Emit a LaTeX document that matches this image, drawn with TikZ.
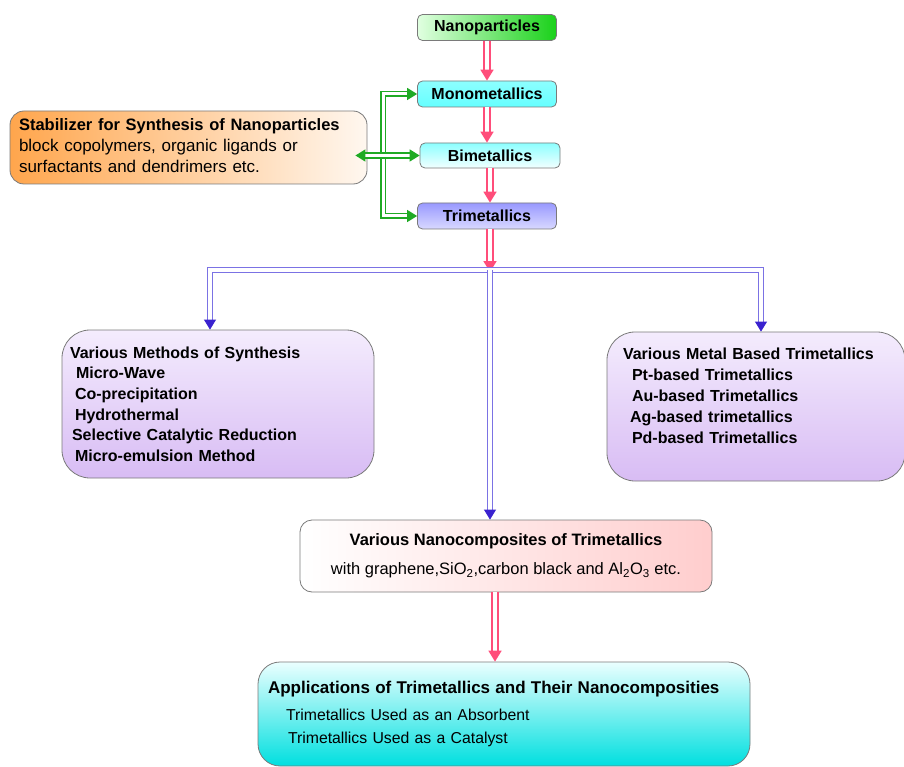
\documentclass[tikz,border=0pt]{standalone}
\usepackage{fontspec}
\setmainfont{Liberation Sans}
\usetikzlibrary{positioning, arrows.meta, calc}

\definecolor{pinkline}{HTML}{FF4D7A}
\definecolor{bluebus}{HTML}{7B72E4}
\definecolor{bluetip}{HTML}{3A22CF}
\definecolor{greenline}{HTML}{1FAA24}
\definecolor{boxline}{HTML}{7A7A7A}
\definecolor{lavtop}{HTML}{F4ECFD}
\definecolor{lavbottom}{HTML}{D8BCF4}

\begin{document}
\begin{tikzpicture}[
        x=1pt, y=-1pt,
        small/.style={draw=boxline, line width=0.8pt, rounded corners=5pt, inner sep=0pt, align=center, minimum width=139pt, minimum height=26pt, font=\fontsize{16}{19}\selectfont\bfseries},
        panel/.style={draw=boxline, line width=0.8pt, inner ysep=0pt, align=left},
        pinkarrow/.style={draw=pinkline, double=white, line width=1.8pt, double distance=3.5pt, -{Triangle[length=11pt, width=13pt]}},
        busline/.style={draw=bluebus, double=white, line width=0.9pt, double distance=4pt},
        bluearrow/.style={busline, -{Triangle[length=10pt, width=12pt, color=bluetip]}},
        greenarrow/.style={draw=greenline, double=white, line width=1.6pt, double distance=3pt, {Triangle[length=10pt, width=12pt]}-{Triangle[length=10pt, width=12pt]}}
    ]
    \useasboundingbox (0,0) rectangle (904,767);

    % Nodes
    \node[small, left color=green!12!white, right color=green!80!black!90] (nano) at (487,27.5) {Nanoparticles};
    \node[small, top color=cyan!45!white, bottom color=cyan!60!white] (mono) at (487,94) {Monometallics};
    \node[small, minimum width=140pt, minimum height=25pt, top color=cyan!45!white, bottom color=cyan!5!white] (bi) at (490,155.5) {Bimetallics};
    \node[small, top color=blue!40!white, bottom color=blue!15!white] (tri) at (487,216) {Trimetallics};

    \node[panel, rounded corners=14pt, left color=orange!70!white, right color=orange!6!white, text width=339pt, inner xsep=9pt, minimum height=73pt, font=\fontsize{17}{21}\selectfont] (stab) at (188.5,147.5)
        {\mbox{}\\[-13pt]
         \textbf{\fontsize{16.5}{21}\selectfont Stabilizer for Synthesis of Nanoparticles}\\
         block copolymers, organic ligands or\\
         surfactants and dendrimers etc.};

    \node[panel, rounded corners=28pt, top color=lavtop, bottom color=lavbottom, text width=296pt, inner xsep=8pt, minimum height=148pt, font=\fontsize{16}{20.6}\selectfont\bfseries] (meth) at (218,404)
        {Various Methods of Synthesis\\
         \hspace*{6pt}Micro-Wave\\
         \hspace*{5pt}Co-precipitation\\
         \hspace*{5pt}Hydrothermal\\
         \hspace*{2pt}Selective Catalytic Reduction\\
         \hspace*{5pt}Micro-emulsion Method};

    \node[panel, rounded corners=28pt, top color=lavtop, bottom color=lavbottom, text width=266pt, inner xsep=16pt, minimum height=149pt, font=\fontsize{16}{21}\selectfont\bfseries] (metal) at (756,406.5)
        {Various Metal Based Trimetallics\\
         \hspace*{9pt}Pt-based Trimetallics\\
         \hspace*{9pt}Au-based Trimetallics\\
         \hspace*{7pt}Ag-based trimetallics\\
         \hspace*{9pt}Pd-based Trimetallics\\
         \mbox{}};

    \node[panel, rounded corners=12pt, align=center, left color=white, right color=pink!90!red!60, minimum width=412pt, minimum height=72pt, font=\fontsize{16.5}{20}\selectfont] (comp) at (506,556)
        {\textbf{Various Nanocomposites of Trimetallics}\\[9pt]
         with graphene,SiO\textsubscript{2},carbon black and Al\textsubscript{2}O\textsubscript{3} etc.};

    \node[panel, rounded corners=22pt, top color=cyan!8!white, bottom color=cyan!75!teal, text width=472pt, inner xsep=10pt, minimum height=104pt, font=\fontsize{15.8}{23}\selectfont] (app) at (504,714)
        {\textbf{\fontsize{17}{21}\selectfont Applications of Trimetallics and Their Nanocomposities}\\[4pt]
         \hspace*{18pt}Trimetallics Used as an Absorbent\\
         \hspace*{20pt}Trimetallics Used as a Catalyst};

    \coordinate (bus) at (490,270);
    \coordinate (gx) at (383,155);

    % Arrows
    \draw[pinkarrow] (nano) -- (mono);
    \draw[pinkarrow] (mono) -- (mono |- bi.north);
    \draw[pinkarrow] (bi) -- (bi |- tri.north);
    \draw[pinkarrow] (tri.south -| bus) -- ([yshift=-2pt]bus);
    \draw[busline] ([xshift=-8pt]meth.north |- bus) -- ([xshift=5pt]metal.north |- bus);
    \draw[bluearrow] (bus) -| ([xshift=-8pt]meth.north);
    \draw[bluearrow] (bus) -| ([xshift=5pt]metal.north);
    \draw[bluearrow] (bus) -- (bus |- comp.north);
    \draw[pinkarrow] ([xshift=-11pt]comp.south) -- ([xshift=-11pt]comp.south |- app.north);
    \draw[greenarrow] (mono.west) -| (gx) |- (tri.west);
    \draw[greenarrow] ([xshift=-12pt]stab.east |- bi.west) -- (bi.west);
\end{tikzpicture}
\end{document}
